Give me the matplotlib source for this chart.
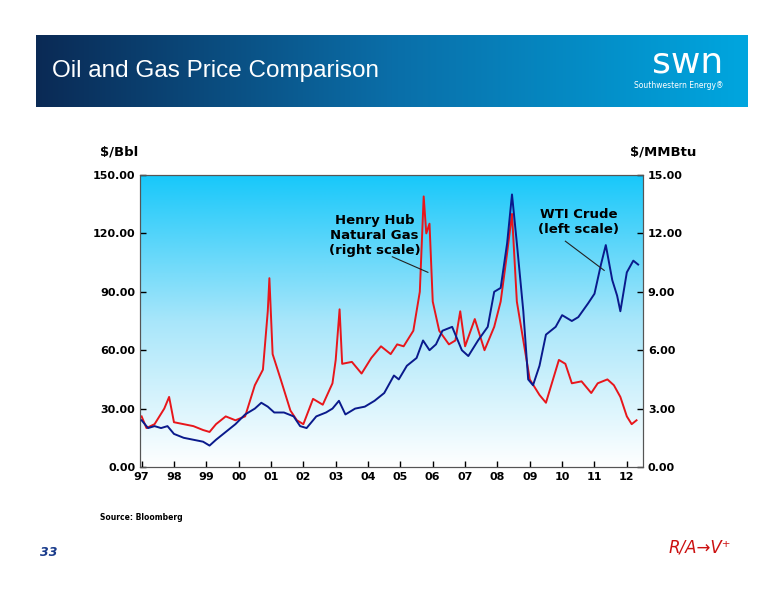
import numpy as np
import matplotlib
matplotlib.use("Agg")
import matplotlib.pyplot as plt
from matplotlib.colors import LinearSegmentedColormap

# WTI crude, $/Bbl (left scale)
wti_x = [1997.0, 1997.2, 1997.4, 1997.6, 1997.8, 1998.0, 1998.3, 1998.6, 1998.9, 1999.1, 1999.3,
         1999.6, 1999.9, 2000.2, 2000.5, 2000.7, 2000.9, 2001.1, 2001.4, 2001.7, 2001.9, 2002.1,
         2002.4, 2002.7, 2002.9, 2003.1, 2003.3, 2003.6, 2003.9, 2004.2, 2004.5, 2004.8, 2004.95,
         2005.2, 2005.5, 2005.7, 2005.9, 2006.1, 2006.3, 2006.6, 2006.9, 2007.1, 2007.4, 2007.7,
         2007.9, 2008.1, 2008.3, 2008.45, 2008.6, 2008.8, 2008.95, 2009.1, 2009.3, 2009.5, 2009.8,
         2010.0, 2010.3, 2010.5, 2010.8, 2011.0, 2011.2, 2011.35, 2011.55, 2011.7, 2011.8, 2012.0,
         2012.2, 2012.35]
wti_y = [24, 20, 21, 20, 21, 17, 15, 14, 13, 11, 14, 18, 22, 27, 30, 33, 31, 28, 28, 26, 21, 20,
         26, 28, 30, 34, 27, 30, 31, 34, 38, 47, 45, 52, 56, 65, 60, 63, 70, 72, 60, 57, 65, 72,
         90, 92, 115, 140, 115, 80, 45, 42, 52, 68, 72, 78, 75, 77, 84, 89, 104, 114, 96, 88, 80,
         100, 106, 104]

# Henry Hub natural gas, $/MMBtu (right scale)
gas_x = [1997.0, 1997.15, 1997.4, 1997.7, 1997.85, 1998.0, 1998.3, 1998.6, 1998.9, 1999.1, 1999.3,
         1999.6, 1999.9, 2000.2, 2000.5, 2000.75, 2000.9, 2000.95, 2001.05, 2001.3, 2001.6, 2001.8,
         2002.0, 2002.3, 2002.6, 2002.9, 2003.0, 2003.12, 2003.2, 2003.5, 2003.8, 2004.1, 2004.4,
         2004.7, 2004.9, 2005.1, 2005.4, 2005.6, 2005.72, 2005.8, 2005.9, 2006.0, 2006.2, 2006.5,
         2006.7, 2006.85, 2007.0, 2007.3, 2007.6, 2007.9, 2008.1, 2008.3, 2008.45, 2008.6, 2008.8,
         2009.0, 2009.3, 2009.5, 2009.7, 2009.9, 2010.1, 2010.3, 2010.6, 2010.9, 2011.1, 2011.4,
         2011.6, 2011.8, 2012.0, 2012.15, 2012.3]
gas_y = [2.6, 2.0, 2.2, 3.0, 3.6, 2.3, 2.2, 2.1, 1.9, 1.8, 2.2, 2.6, 2.4, 2.6, 4.2, 5.0, 8.0, 9.7,
         5.8, 4.5, 2.9, 2.4, 2.2, 3.5, 3.2, 4.3, 5.5, 8.1, 5.3, 5.4, 4.8, 5.6, 6.2, 5.8, 6.3, 6.2,
         7.0, 9.0, 13.9, 12.0, 12.5, 8.5, 7.0, 6.3, 6.5, 8.0, 6.2, 7.6, 6.0, 7.2, 8.5, 11.0, 13.0,
         8.5, 6.5, 4.5, 3.7, 3.3, 4.4, 5.5, 5.3, 4.3, 4.4, 3.8, 4.3, 4.5, 4.2, 3.6, 2.6, 2.2, 2.4]

years = list(range(1997, 2013))
year_labels = ["97", "98", "99", "00", "01", "02", "03", "04", "05", "06", "07", "08", "09",
               "10", "11", "12"]

fig = plt.figure(figsize=(7.76, 6.0), dpi=100)

# header banner with gradient
bax = fig.add_axes([36/776, 1-107/600, 712/776, 72/600])
bcmap = LinearSegmentedColormap.from_list("b", ["#0b2a55", "#0a6ea8", "#00a6df"])
bax.imshow(np.linspace(0, 1, 256)[None, :], aspect="auto", cmap=bcmap, extent=[0, 1, 0, 1])
bax.set_xlim(0, 1); bax.set_ylim(0, 1); bax.axis("off")
bax.text(0.022, 0.5, "Oil and Gas Price Comparison", color="white", fontsize=17.5,
         va="center", ha="left", family="Liberation Sans")
bax.text(0.965, 0.62, "swn", color="white", fontsize=26, va="center", ha="right")
bax.text(0.965, 0.3, "Southwestern Energy\u00ae", color="white", fontsize=5.5, va="center", ha="right")

ax = fig.add_axes([140/776, 1-467/600, 503/776, 292/600])
pcmap = LinearSegmentedColormap.from_list("p", ["#ffffff", "#a8e6fa", "#18c8fa"])
ax.plot(wti_x, wti_y, color="#0a1a8c", lw=1.4, zorder=3)
ax.set_xlim(1996.95, 2012.5)
ax.set_ylim(0, 150)
ax.set_yticks(np.arange(0, 151, 30))
ax.set_yticklabels([f"{v:.2f}" for v in np.arange(0, 151, 30)])
ax.set_xticks(years)
ax.set_xticklabels(year_labels)
ax.tick_params(direction="in", labelsize=8, width=1, length=4)
for lab in ax.get_xticklabels() + ax.get_yticklabels():
    lab.set_fontweight("bold")

ax2 = ax.twinx()
ax2.imshow(np.linspace(0, 1, 256)[:, None], aspect="auto", cmap=pcmap, origin="lower",
           extent=[1996.95, 2012.5, 0, 15], zorder=0)
ax2.plot(gas_x, gas_y, color="#e8161b", lw=1.4, zorder=2)
ax2.set_xlim(1996.95, 2012.5)
ax2.set_ylim(0, 15)
ax2.set_yticks(np.arange(0, 15.1, 3))
ax2.set_yticklabels([f"{v:.2f}" for v in np.arange(0, 15.1, 3)])
ax2.tick_params(direction="in", labelsize=8, width=1, length=4)
for lab in ax2.get_yticklabels():
    lab.set_fontweight("bold")
ax.set_zorder(ax2.get_zorder() + 1)
ax.patch.set_visible(False)
for a in (ax, ax2):
    for s in a.spines.values():
        s.set_color("#555555")

ax.text(2004.2, 119, "Henry Hub\nNatural Gas\n(right scale)", ha="center", va="center",
        fontsize=9.5, fontweight="bold", linespacing=1.2, zorder=5)
ax.plot([2004.75, 2005.85], [108, 100], color="#222222", lw=0.8, zorder=5)
ax.text(2010.5, 126, "WTI Crude\n(left scale)", ha="center", va="center",
        fontsize=9.5, fontweight="bold", linespacing=1.2, zorder=5)
ax.plot([2010.1, 2011.3], [116, 101], color="#222222", lw=0.8, zorder=5)

fig.text(100/776, 1-152/600, "$/Bbl", fontsize=9.5, fontweight="bold", va="center")
fig.text(696/776, 1-152/600, "$/MMBtu", fontsize=9.5, fontweight="bold", va="center", ha="right")
fig.text(100/776, 1-517/600, "Source: Bloomberg", fontsize=5.5, fontweight="bold", va="center")
fig.text(40/776, 1-553/600, "33", fontsize=9, fontweight="bold", style="italic",
         color="#1a3c8c", va="center")
fig.text(700/776, 1-548/600, "R/A\u2192V\u207a", fontsize=12, style="italic", color="#cc1010",
         va="center", ha="center")

fig.savefig("out.png", dpi=100)
